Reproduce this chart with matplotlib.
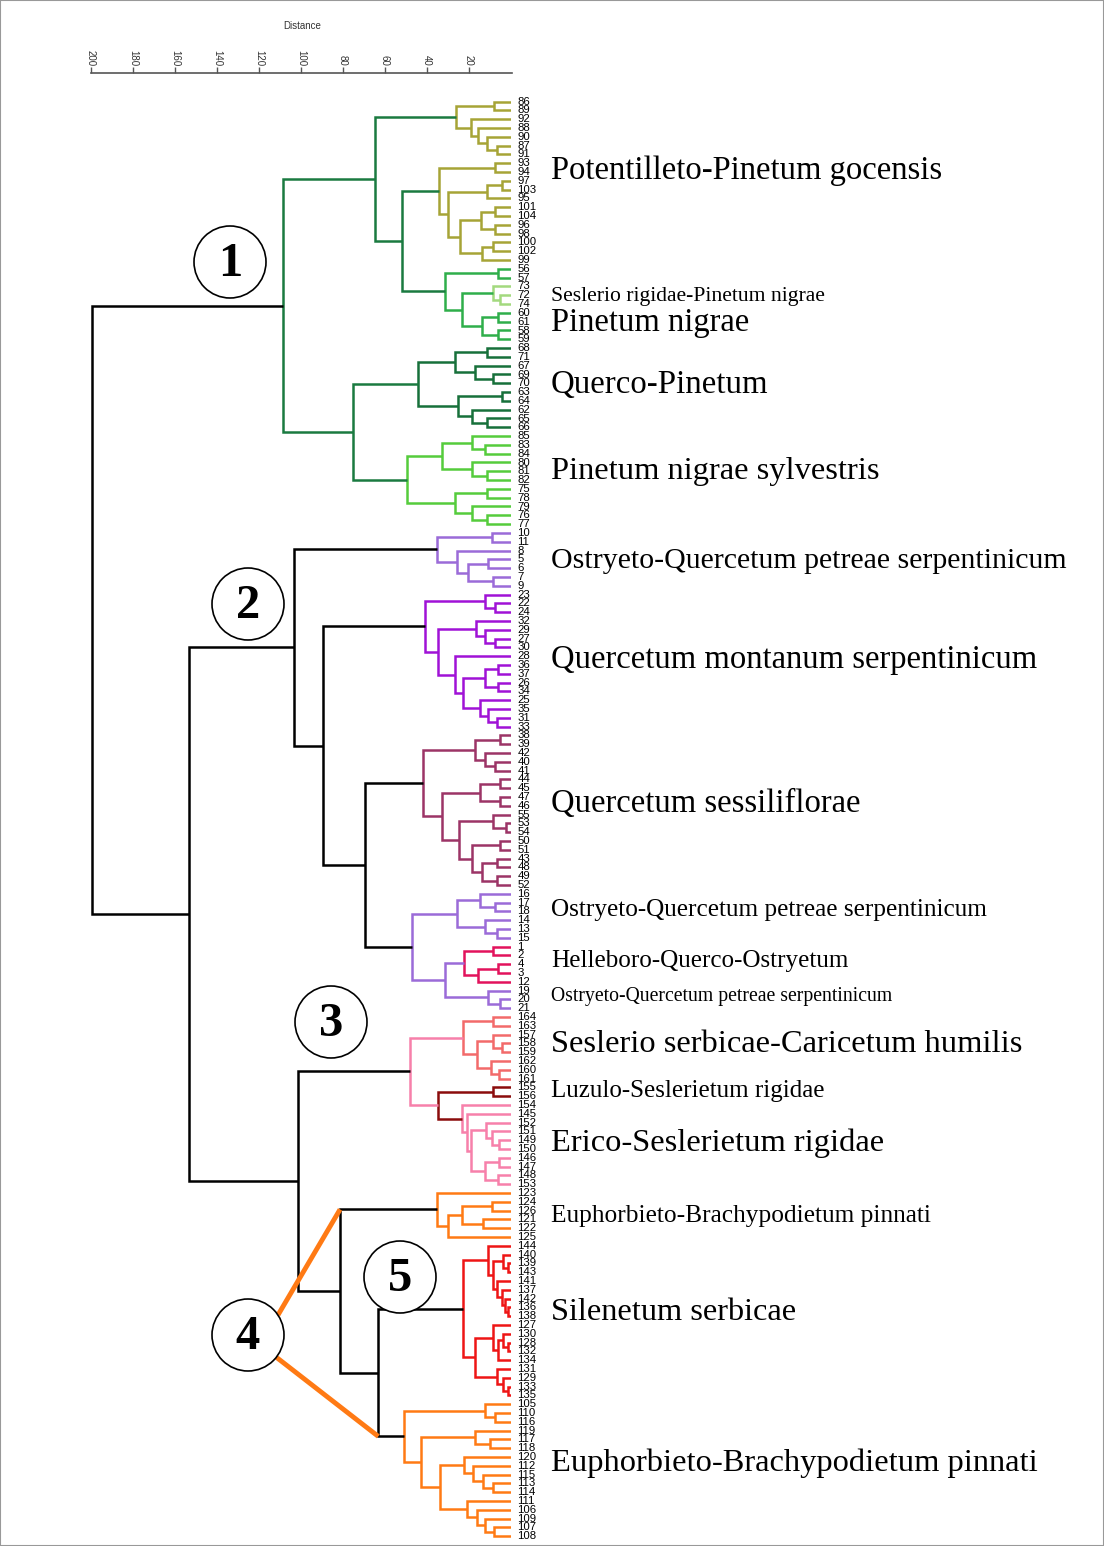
import matplotlib
matplotlib.use('Agg')
import matplotlib.pyplot as plt
from matplotlib.patches import Circle, Rectangle

# --- tree: (upper child, lower child, distance); ints are releve numbers
A1 = ((86, 89, 8.1), (92, (88, (90, (87, 91, 6.8), 11.6), 15.6), 19.2), 26.2)
A2 = ((93, 94, 7.6),
      (((97, 103, 4.4), 95, 11.4),
       (((101, 104, 7.6), (96, 98, 7.6), 14.3), ((100, 102, 8.6), 99, 13.8), 24.3), 30.0), 34.3)
B_light = (73, (72, 74, 5.2), 8.6)
B = ((56, 57, 6.2), (B_light, ((60, 61, 6.2), (58, 59, 6.2), 14.0), 23.5), 31.4)
C = (((68, 71, 11.6), (67, (69, 70, 8.4), 17.1), 26.7),
     ((63, 64, 4.4), (62, (65, 66, 11.6), 18.7), 25.1), 44.1)
D = (((85, (83, 84, 12.4), 18.7), (80, (81, 82, 11.6), 18.7), 33.0),
     ((75, 78, 11.6), (79, (76, 77, 11.6), 18.7), 26.7), 49.7)
cluster1 = ((A1, (A2, B, 51.9), 64.8), (C, D, 75.1), 108.6)

E = ((10, 11, 9.2), (8, ((5, 6, 10.8), (7, 9, 8.4), 20.3), 25.9), 35.1)
F = ((23, (22, 24, 7.6), 12.4),
     ((32, (29, (27, 30, 7.6), 12.4), 16.7),
      (28, (((36, 37, 6.2), (26, 34, 6.2), 12.4), (25, (35, (31, 33, 6.8), 10.8), 14.8), 22.7), 26.7),
      34.6), 41.0)
G = (((38, 39, 5.2), (42, (40, 41, 7.6), 12.4), 17.1),
     (((44, 45, 5.2), (47, 46, 5.2), 14.8),
      ((55, (53, 54, 2.4), 8.4), ((50, 51, 5.2), ((43, 48, 6.8), (49, 52, 6.8), 14.0), 18.7), 24.6),
      33.0), 41.8)
H_red = ((1, 2, 8.7), ((4, 3, 6.0), 12, 15.6), 22.4)
H = (((16, (17, 18, 7.6), 14.8), (14, (13, 15, 6.8), 12.4), 25.9),
     (H_red, (19, (20, 21, 5.2), 10.8), 31.4), 47.3)
cluster2 = (E, (F, (G, H, 69.5), 89.5), 103.3)

I = ((164, 163, 8.7), ((157, (158, 159, 4.4), 8.7), (162, (160, 161, 5.6), 9.7), 16.3), 23.0)
J_sub = (154, (145, ((152, (151, (149, 150, 5.6), 9.2), 11.9),
                     ((146, 147, 5.6), (148, 153, 6.0), 12.4), 19.2), 21.1), 23.5)
J = ((155, 156, 8.7), J_sub, 34.6)
IJ = (I, J, 48.1)
K = (123, (((124, 126, 9.2), (121, 122, 13.2), 23.5), 125, 29.9), 35.4)
L = ((144, ((140, (139, 143, 1.5), 4.0),
            (141, (137, (142, (136, 138, 1.3), 2.9), 4.4), 6.8), 8.4), 10.8),
     ((127, ((130, (128, 132, 1.5), 3.7), 134, 6.2), 8.4),
      (131, (129, (133, 135, 1.5), 3.7), 6.8), 17.1), 23.0)
M = ((105, (110, 116, 7.6), 12.4),
     ((119, (117, 118, 10.0), 17.1),
      ((120, (112, (115, (113, 114, 8.4), 13.5), 18.3), 22.4),
       (111, (106, (109, (107, 108, 8.1), 12.4), 16.3), 21.1), 33.8), 43.0), 51.0)
LM = (L, M, 63.2)
KLM = (K, LM, 81.4)
rest = (IJ, KLM, 101.4)
root = (cluster1, (cluster2, rest, 153.3), 199.5)

dist_ticks = [200, 180, 160, 140, 120, 100, 80, 60, 40, 20]

group_names = ['Potentilleto-Pinetum gocensis', 'Seslerio rigidae-Pinetum nigrae', 'Pinetum nigrae',
               'Querco-Pinetum', 'Pinetum nigrae sylvestris', 'Ostryeto-Quercetum petreae serpentinicum',
               'Quercetum montanum serpentinicum', 'Quercetum sessiliflorae',
               'Ostryeto-Quercetum petreae serpentinicum', 'Helleboro-Querco-Ostryetum',
               'Ostryeto-Quercetum petreae serpentinicum', 'Seslerio serbicae-Caricetum humilis',
               'Luzulo-Seslerietum rigidae', 'Erico-Seslerietum rigidae',
               'Euphorbieto-Brachypodietum pinnati', 'Silenetum serbicae',
               'Euphorbieto-Brachypodietum pinnati']
group_y = [171, 296, 323, 385, 471, 561, 660, 804, 910, 961, 996, 1045, 1091, 1143, 1216, 1312, 1463]
group_fs = [23.5, 15.6, 23.5, 23.7, 23.4, 21.5, 23.5, 23.5, 18.2, 18.1, 14.2, 23.4, 18, 23.4, 18.3, 23.3, 23.4]

circle_nums = ['1', '2', '3', '4', '5']
circle_xy = [(230, 262), (248, 604), (331, 1022), (248, 1335), (400, 1277)]

olive = '#a6a436'
lavender = '#9b6bd8'
orange = '#ff7a14'
color_groups = [
    (B_light, '#a3d97e'), ((155, 156, 0), '#8b0c0c'), (H_red, '#e2135c'),
    (A1, olive), (A2, olive), (B, '#2fae4a'), (C, '#17703a'), (D, '#55cc3c'),
    (cluster1, '#1a7a40'), (E, lavender), (F, '#a012d6'), (G, '#9c3466'), (H, lavender),
    (I, '#f26a6a'), (J_sub, '#f780aa'), (J, '#8b0c0c'), (IJ, '#f780aa'),
    (K, orange), (L, '#ee1515'), (M, orange),
]


def leaves_of(n):
    if isinstance(n, int):
        return [n]
    return leaves_of(n[0]) + leaves_of(n[1])


order = leaves_of(root)
ypos = {lab: i for i, lab in enumerate(order)}
sets = sorted([(set(leaves_of(g)), c) for g, c in color_groups], key=lambda t: len(t[0]))


def color_of(n):
    s = set(leaves_of(n))
    for g, c in sets:
        if s <= g:
            return c
    return 'black'


node_pos = {}


def draw(ax, n):
    if isinstance(n, int):
        return ypos[n], 0.0
    ya, ha = draw(ax, n[0])
    yb, hb = draw(ax, n[1])
    h = n[2]
    ax.plot([ha, h, h, hb], [ya, ya, yb, yb], color=color_of(n), lw=1.8,
            solid_capstyle='butt', solid_joinstyle='miter')
    node_pos[id(n)] = (h, ya, yb)
    return (ya + yb) / 2, h


W, H_ = 1104, 1546
fig = plt.figure(figsize=(W / 100, H_ / 100), dpi=100)

ax = fig.add_axes([91 / W, (H_ - 1540.5) / H_, 420 / W, (1540.5 - 97.3) / H_])
ax.set_xlim(200, 0)
ax.set_ylim(len(order) - 0.5, -0.5)
ax.axis('off')
draw(ax, root)
for lab, i in ypos.items():
    ax.text(-3.0, i, str(lab), va='center', ha='left', fontsize=8.2,
            family='Liberation Sans', clip_on=False)

# --- distance scale on top
axs = fig.add_axes([91 / W, 1 - 73 / H_ - 0.01, 421 / W, 0.01])
axs.set_xlim(200, -0.5)
for s in ['left', 'right', 'bottom']:
    axs.spines[s].set_visible(False)
axs.spines['top'].set_color('#555555')
axs.spines['top'].set_linewidth(1.2)
axs.set_yticks([])
axs.xaxis.tick_top()
axs.set_xticks(dist_ticks)
axs.set_xticklabels([str(t) for t in dist_ticks], rotation=-90, fontsize=7,
                    family='Liberation Sans', color='#333333')
axs.tick_params(axis='x', direction='out', length=4, width=1, pad=1, color='#555555')
axs.patch.set_alpha(0)
fig.text(302 / W, 1 - 26 / H_, 'Distance', ha='center', va='center', fontsize=7,
         family='Liberation Sans', color='#333333')

# --- overlay in pixel units for labels and circled numbers
ov = fig.add_axes([0, 0, 1, 1])
ov.set_xlim(0, W)
ov.set_ylim(H_, 0)
ov.axis('off')
ov.patch.set_alpha(0)

for name, y, fs in zip(group_names, group_y, group_fs):
    ov.text(551, y, name, fontsize=fs, family='Liberation Serif', va='center', ha='left')


# orange lines from circle 4 to the nodes it points at
def to_px(x, y):
    dx, dy = ax.transData.transform((x, y))
    return dx, H_ - dy


h, ya, yb = node_pos[id(KLM)]
p_up = to_px(h, ya)
h, ya, yb = node_pos[id(LM)]
p_lo = to_px(h, yb)
cx, cy = circle_xy[3]
ov.plot([cx + 30, p_up[0]], [cy - 20, p_up[1]], color=orange, lw=3.5, solid_capstyle='butt', zorder=2)
ov.plot([cx + 28, p_lo[0]], [cy + 22, p_lo[1]], color=orange, lw=3.5, solid_capstyle='butt', zorder=2)

for num, (x, y) in zip(circle_nums, circle_xy):
    ov.add_patch(Circle((x, y), 36, facecolor='white', edgecolor='black', lw=1.2, zorder=3))
    ov.text(x, y + 2, num, ha='center', va='center', fontsize=35, weight='bold',
            family='Liberation Serif', zorder=4)

fig.add_artist(Rectangle((0, 0), 1, 1, transform=fig.transFigure, fill=False,
                         edgecolor='#999999', lw=1.5))

fig.savefig('out.png', dpi=100)
